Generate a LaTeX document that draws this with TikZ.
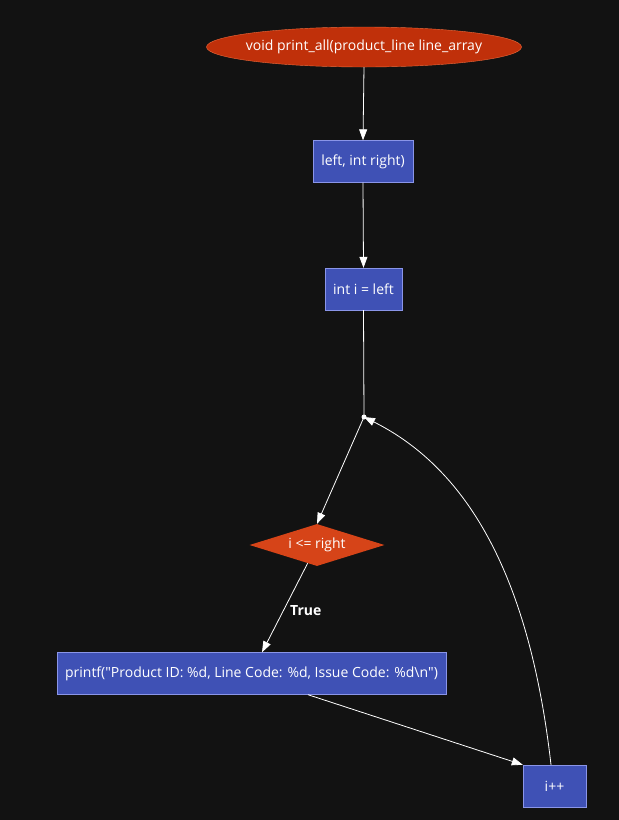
\documentclass[tikz,border=0pt]{standalone}
\usepackage{fontspec}
\setmainfont{Open Sans}
\usetikzlibrary{shapes.geometric,arrows.meta}
\definecolor{bgcol}{HTML}{121212}
\definecolor{startfill}{HTML}{C0300A}
\definecolor{startline}{HTML}{F06A3C}
\definecolor{stepfill}{HTML}{3F51B5}
\definecolor{stepline}{HTML}{8A95E8}
\definecolor{condfill}{HTML}{D64418}
\begin{document}
\begin{tikzpicture}[
  x=1pt, y=-1pt,
  font=\fontsize{14}{17}\selectfont,
  startnode/.style={ellipse, draw=startline, fill=startfill, text=white, minimum width=315pt, minimum height=40pt, inner xsep=-8pt, inner ysep=0pt},
  stepbox/.style={rectangle, draw=stepline, fill=stepfill, text=white, minimum height=42pt, inner sep=0pt},
  condnode/.style={diamond, fill=condfill, text=white, aspect=3.2, minimum width=135pt, minimum height=42pt, inner sep=0pt},
  flow/.style={draw=white, line width=0.8pt, -{Triangle[length=11pt,width=8pt]}}
]
\fill[bgcol] (0,0) rectangle (619,820);
\useasboundingbox (0,0) rectangle (619,820);

% Function entry
\node[startnode] (start) at (364,47) {void print\_all(product\_line line\_array};

% Steps
\node[stepbox, minimum width=100pt] (params) at (363,161.5) {left, int right)};
\node[stepbox, minimum width=77pt] (init) at (363.5,289) {int i = left};
\coordinate (merge) at (364,417);
\node[condnode] (cond) at (317,545) {i <= right};
\node[stepbox, minimum width=389pt] (body) at (251.5,673.5)
  {printf(\textquotedbl Product ID: \%d, Line Code: \%d, Issue Code: \%d\textbackslash n\textquotedbl)};
\node[stepbox, minimum width=63pt] (incr) at (554.5,786) {i++};

% Arrows
\draw[flow] (start.south) -- (params.north);
\draw[flow] (params.south) -- (init.north);
\draw[draw=white, line width=0.8pt] (init.south) -- (merge);
\fill[white] (merge) circle (2.5pt);
\draw[flow] (merge) -- (cond.north);
\draw[flow] (cond) -- (body.north -| 262,0) node[pos=0.53, right=3pt, text=white, font=\fontsize{14}{17}\selectfont\bfseries] {True};
\draw[flow] (body.south -| 308,0) -- (incr.north west);
\draw[flow] (incr.north -| 551,0) .. controls (530,580) and (470,470) .. (merge);
\end{tikzpicture}
\end{document}
